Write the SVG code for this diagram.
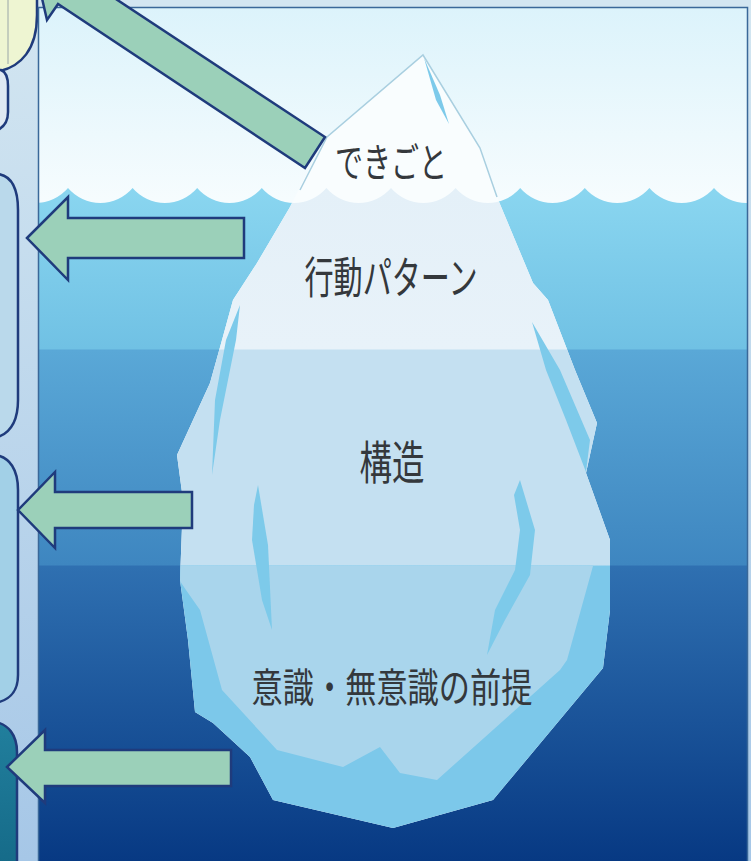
<svg xmlns="http://www.w3.org/2000/svg" width="751" height="861" viewBox="0 0 751 861">
  <defs>
    <linearGradient id="sideBg" x1="0" y1="0" x2="0" y2="1">
      <stop offset="0" stop-color="#d3e6f1"/>
      <stop offset="1" stop-color="#a6c7e7"/>
    </linearGradient>
    <linearGradient id="sky" gradientUnits="userSpaceOnUse" x1="0" y1="8" x2="0" y2="200">
      <stop offset="0" stop-color="#dcf3fb"/>
      <stop offset="1" stop-color="#f6fcfe"/>
    </linearGradient>
    <!-- sea: three depth bands with hard edges -->
    <linearGradient id="sea" gradientUnits="userSpaceOnUse" x1="0" y1="188" x2="0" y2="861">
      <stop offset="0" stop-color="#8ad6f0"/>
      <stop offset="0.2392" stop-color="#70c1e4"/>
      <stop offset="0.2407" stop-color="#5aa8d7"/>
      <stop offset="0.5602" stop-color="#3e86c0"/>
      <stop offset="0.5617" stop-color="#2f70b1"/>
      <stop offset="1" stop-color="#073983"/>
    </linearGradient>
    <!-- submerged ice: same bands, lighter -->
    <linearGradient id="ice" gradientUnits="userSpaceOnUse" x1="0" y1="188" x2="0" y2="861">
      <stop offset="0" stop-color="#e4f0f8"/>
      <stop offset="0.2392" stop-color="#e8f2f9"/>
      <stop offset="0.2407" stop-color="#c4e0f1"/>
      <stop offset="0.5602" stop-color="#c4e0f1"/>
      <stop offset="0.5617" stop-color="#7cc8ea"/>
      <stop offset="1" stop-color="#7cc8ea"/>
    </linearGradient>
    <linearGradient id="teal" x1="0" y1="0" x2="0" y2="1">
      <stop offset="0" stop-color="#217f9d"/>
      <stop offset="1" stop-color="#156a88"/>
    </linearGradient>
    <clipPath id="frameClip">
      <rect x="39" y="8" width="708" height="853"/>
    </clipPath>
    <clipPath id="bergClip">
      <polygon points="423,55 480,148 497,197 515,240 533,283 548,300 575,370 597,423 586,473 610,540 610,610 603,668 493,800 393,828 273,800 250,757 213,723 195,712 188,640 180,580 183,500 177,455 210,383 222,340 233,300 257,263 290,207 300,187 327,137"/>
    </clipPath>
    <path id="waveLine" d="M3.4,188 A42.4,42.4 0 0 0 68,188 A42.4,42.4 0 0 0 132.6,188 A42.4,42.4 0 0 0 197.2,188 A42.4,42.4 0 0 0 261.8,188 A42.4,42.4 0 0 0 326.4,188 A42.4,42.4 0 0 0 391,188 A42.4,42.4 0 0 0 455.6,188 A42.4,42.4 0 0 0 520.2,188 A42.4,42.4 0 0 0 584.8,188 A42.4,42.4 0 0 0 649.4,188 A42.4,42.4 0 0 0 714,188 A42.4,42.4 0 0 0 778.6,188 L778.6,861 L3.4,861 Z"/>
    <style>
      .panel { stroke: #1f3b7c; stroke-width: 2.5; }
      .arrow { fill: #9bd0b9; stroke: #1f3b7c; stroke-width: 2.5; stroke-linejoin: miter; }
      .sliver { fill: #7dcaea; }
      .label { font-family: "Noto Sans CJK JP", "Noto Sans", sans-serif; font-weight: 400; fill: #34383c; text-anchor: middle; dominant-baseline: central; }
    </style>
  </defs>

  <!-- side margin and outer trim -->
  <rect x="0" y="0" width="751" height="861" fill="url(#sideBg)"/>
  <rect x="38" y="0" width="713" height="8" fill="#d3e6f1"/>

  <!-- side panels -->
  <g id="panel-top">
    <path class="panel" d="M-5,-5 H37 V15 C37,48 22,68 -5,72 Z" fill="#eef5d2"/>
    <line x1="8" y1="0" x2="8" y2="64" stroke="#9aa6a8" stroke-width="1"/>
  </g>
  <g id="panel-top-lower">
    <path class="panel" d="M-5,70 H1 C6,72 8,78 8,86 V112 C8,122 4,128 -5,131 Z" fill="#dfe9f3"/>
  </g>
  <g id="panel-pattern">
    <path class="panel" d="M-5,174 H-2 C12,176 18,190 18,210 V400 C18,422 10,434 -5,438 Z" fill="#bad9eb"/>
  </g>
  <g id="panel-structure">
    <path class="panel" d="M-5,455 C10,457 18,470 18,490 V675 C18,692 10,700 -5,703 Z" fill="#a2d0e7"/>
  </g>
  <g id="panel-premise">
    <path class="panel" d="M-5,722 C8,724 17,735 17,752 V870 H-5 Z" fill="url(#teal)"/>
  </g>

  <!-- scene -->
  <g id="scene" clip-path="url(#frameClip)">
    <rect x="38" y="8" width="713" height="853" fill="url(#sky)"/>
    <use href="#waveLine" fill="url(#sea)"/>

    <!-- iceberg -->
    <g id="iceberg" clip-path="url(#bergClip)">
      <rect x="150" y="40" width="500" height="800" fill="#f9fdfe"/>
      <use href="#waveLine" fill="url(#ice)"/>
      <!-- lighter core of the deepest layer -->
      <polygon points="170,566 186,590 200,610 222,690 277,750 343,767 380,747 400,773 437,780 560,670 567,660 593,566" fill="#a9d5ec"/>
      <!-- facets -->
      <polygon class="sliver" points="424,58 440,95 449,124 436,100" fill="#93d6ee"/>
      <polygon class="sliver" points="240,305 236,340 220,420 212,475 215,400 226,340"/>
      <polygon class="sliver" points="258,485 268,545 272,630 262,600 252,540 254,505"/>
      <polygon class="sliver" points="532,322 560,370 590,440 586,472 566,420 546,370"/>
      <polygon class="sliver" points="520,480 535,530 530,575 505,620 487,655 495,610 515,570 520,530 514,495"/>
    </g>
    <path d="M300,190 L327,137 L423,55 L480,148 L497,197" fill="none" stroke="#a9cfe0" stroke-width="1.5"/>
  </g>

  <!-- frame -->
  <rect x="38.5" y="7.5" width="709" height="860" fill="none" stroke="#3a6899" stroke-width="1.5"/>

  <!-- layer labels -->
  <g id="layer-event">
    <text class="label" x="391" y="160" font-size="40" textLength="112" lengthAdjust="spacingAndGlyphs">できごと</text>
  </g>
  <g id="layer-pattern">
    <text class="label" x="391" y="275" font-size="44" textLength="173" lengthAdjust="spacingAndGlyphs">行動パターン</text>
  </g>
  <g id="layer-structure">
    <text class="label" x="392" y="459" font-size="46" textLength="65" lengthAdjust="spacingAndGlyphs">構造</text>
  </g>
  <g id="layer-premise">
    <text class="label" x="392" y="685" font-size="40" textLength="281" lengthAdjust="spacingAndGlyphs">意識・無意識の前提</text>
  </g>

  <!-- connectors -->
  <g id="connectors">
    <path class="arrow" d="M32,-45 L89,-42 L78,-26 L325,137 L305,168 L58,4 L47,20 Z"/>
    <path class="arrow" d="M27,238 L68,197 L68,218 L244,218 L244,258 L68,258 L68,280 Z"/>
    <path class="arrow" d="M18,510 L55,472 L55,492 L192,492 L192,528 L55,528 L55,548 Z"/>
    <path class="arrow" d="M7,767 L45,730 L45,750 L231,750 L231,786 L45,786 L45,803 Z"/>
  </g>
</svg>
